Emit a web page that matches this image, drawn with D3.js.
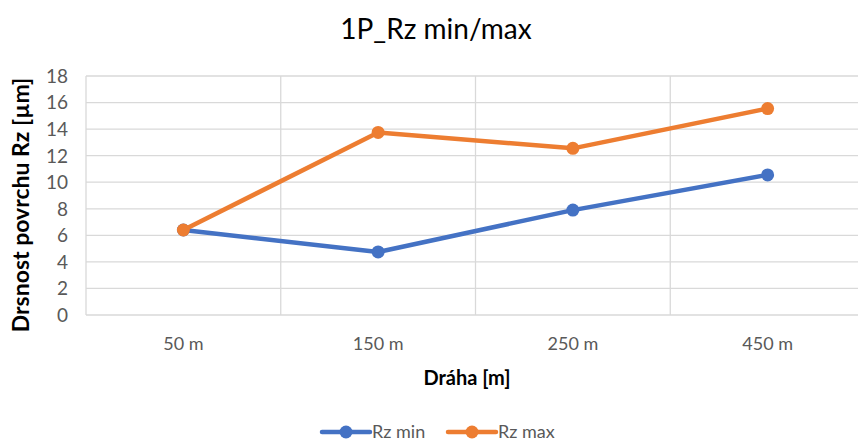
<!DOCTYPE html>
<html><head><meta charset="utf-8">
<script src="https://cdn.jsdelivr.net/npm/d3@7"></script>
<style>body{margin:0;background:#fff;}svg{display:block;font-family:Lato,"Open Sans",sans-serif;}</style>
</head><body>
<svg id="c" width="858" height="443"></svg>
<script>
const categories = ["50 m","150 m","250 m","450 m"];
const rzMin = [6.4, 4.75, 7.9, 10.55];
const rzMax = [6.4, 13.75, 12.55, 15.55];
const yTicks = [0,2,4,6,8,10,12,14,16,18];
const seriesNames = ["Rz min","Rz max"];
const colors = ["#4472C4","#ED7D31"];

const svg = d3.select("#c");
const mLeft = 86, mRight = 865, mTop = 76, mBottom = 315;
const x = d3.scaleBand().domain(categories).range([mLeft, mRight]);
const y = d3.scaleLinear().domain([0,18]).range([mBottom, mTop]);

// horizontal grid
svg.append("g").selectAll("line").data(yTicks).join("line")
  .attr("x1", mLeft).attr("x2", mRight)
  .attr("y1", d=>y(d)).attr("y2", d=>y(d))
  .attr("stroke", "#d9d9d9").attr("stroke-width", 1.3);
// vertical grid at band boundaries
const bounds = categories.map(c=>x(c));
svg.append("g").selectAll("line").data(bounds).join("line")
  .attr("x1", d=>d).attr("x2", d=>d)
  .attr("y1", mTop).attr("y2", mBottom)
  .attr("stroke", "#d9d9d9").attr("stroke-width", 1.3);

// y tick labels
svg.append("g").selectAll("text").data(yTicks).join("text")
  .attr("x", 68).attr("y", d=>y(d)).attr("dy","0.36em")
  .attr("text-anchor","end").attr("fill","#595959").attr("font-size",19)
  .text(d=>d);
// x tick labels
svg.append("g").selectAll("text").data(categories).join("text")
  .attr("x", d=>x(d)+x.bandwidth()/2).attr("y", 350)
  .attr("text-anchor","middle").attr("fill","#595959").attr("font-size",18)
  .text(d=>d);

// title
svg.append("text").attr("x", 436).attr("y", 39).attr("text-anchor","middle")
  .attr("font-size",28).attr("fill","#000").text("1P_Rz min/max");
// axis titles
svg.append("text").attr("x", 467).attr("y", 385).attr("text-anchor","middle")
  .attr("font-size",20).attr("font-weight","bold").attr("fill","#000").text("Dráha [m]");
svg.append("text").attr("transform","translate(29,205) rotate(-90)").attr("text-anchor","middle")
  .attr("font-size",23).attr("font-weight","bold").attr("fill","#000").text("Drsnost  povrchu Rz [µm]");

const line = d3.line().x((d,i)=>x(categories[i])+x.bandwidth()/2).y(d=>y(d));
[rzMin, rzMax].forEach((s,k)=>{
  svg.append("path").datum(s).attr("d", line).attr("fill","none")
    .attr("stroke", colors[k]).attr("stroke-width",4.5).attr("stroke-linejoin","round").attr("stroke-linecap","round");
  svg.append("g").selectAll("circle").data(s).join("circle")
    .attr("cx",(d,i)=>x(categories[i])+x.bandwidth()/2).attr("cy", d=>y(d))
    .attr("r",6.5).attr("fill",colors[k]);
});

// legend
const lg = svg.append("g");
const legX = [322, 448];
seriesNames.forEach((n,k)=>{
  const g = lg.append("g").attr("transform",`translate(${legX[k]},432)`);
  g.append("line").attr("x1",0).attr("x2",48).attr("y1",0).attr("y2",0)
    .attr("stroke",colors[k]).attr("stroke-width",4.5).attr("stroke-linecap","round");
  g.append("circle").attr("cx",24).attr("cy",0).attr("r",6.5).attr("fill",colors[k]);
  g.append("text").attr("x",50).attr("y",0).attr("dy","0.33em").attr("font-size",18)
    .attr("fill","#595959").text(n);
});
</script>
</body></html>
